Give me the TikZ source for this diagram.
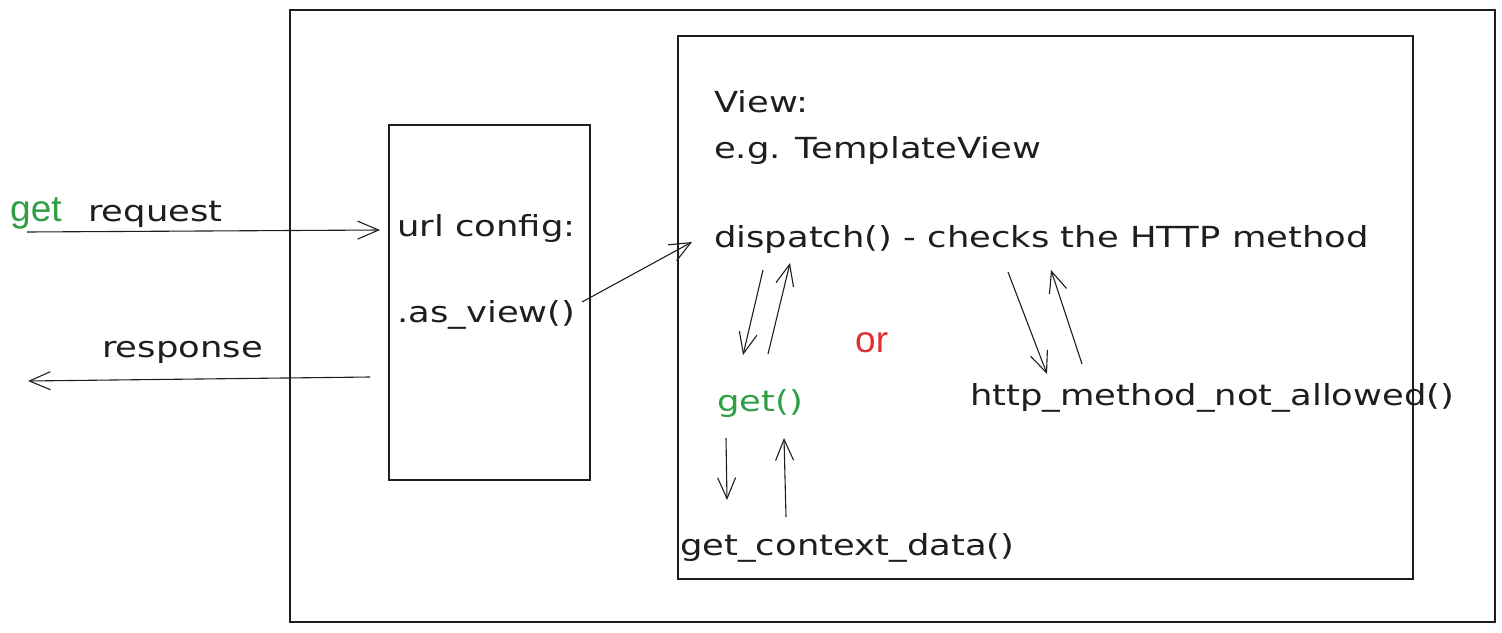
\documentclass[tikz,border=0pt]{standalone}
\usepackage{fontspec}
\usetikzlibrary{arrows.meta}
\newfontfamily\hand[FakeStretch=1.22]{DejaVu Sans}
\newfontfamily\helv{Liberation Sans}
\definecolor{ink}{HTML}{1E1E1E}
\definecolor{exgreen}{HTML}{2F9E44}
\definecolor{exred}{HTML}{E03131}
\tikzset{
  box/.style={draw=ink, line width=1.2pt},
  lbl/.style={anchor=base west, inner sep=0pt, text=ink, font=\hand\fontsize{29}{32}\selectfont},
  lblg/.style={anchor=base west, inner sep=0pt, font=\helv\fontsize{37}{40}\selectfont},
  arr/.style={draw=ink, line width=1.1pt, -{Straight Barb[length=21pt,width=18pt,line width=1.1pt]}},
}
\begin{document}
\begin{tikzpicture}[x=1pt,y=-1pt]
\useasboundingbox (0,0) rectangle (1502,632);
% boxes
\draw[box] (290,10) rectangle (1495,622);
\draw[box] (678,36) rectangle (1413,579);
\draw[box] (389,125) rectangle (590,480);
% texts
\node[lblg, text=exgreen] (getlbl) at (10,221) {get};
\node[lbl] (req) at (88,221) {request};
\node[lbl] (resp) at (102,357) {response};
\node[lbl] (url) at (397,236) {url config:};
\node[lbl] (asv) at (397,322) {.as\_view()};
\node[lbl] (view) at (714,112) {View:};
\node[lbl] (eg) at (714,158) {e.g. TemplateView};
\node[lbl] (disp) at (714,247) {dispatch() - checks the HTTP method};
\node[lblg, text=exred] (or) at (855,352) {or};
\node[lbl, text=exgreen] (get) at (717,411) {get()};
\node[lbl] (http) at (970,405) {http\_method\_not\_allowed()};
\node[lbl] (gcd) at (680,555) {get\_context\_data()};
% connector end points
\coordinate (reqS) at (27,232);
\coordinate (reqE) at (380,230);
\coordinate (respS) at (370,377);
\coordinate (respE) at (28,381);
\coordinate (asvS) at (582,302);
\coordinate (asvE) at (692,242);
\coordinate (d1S) at (763,270);
\coordinate (d1E) at (743,355);
\coordinate (g1S) at (768,354);
\coordinate (g1E) at (790,263);
\coordinate (g2S) at (726,438);
\coordinate (g2E) at (727,500);
\coordinate (c1S) at (786,517);
\coordinate (c1E) at (784,438);
\coordinate (d2S) at (1008,272);
\coordinate (d2E) at (1047,374);
\coordinate (h1S) at (1082,364);
\coordinate (h1E) at (1051,270);
% connectors
\draw[arr] (reqS) -- (reqE);
\draw[arr] (respS) -- (respE);
\draw[arr] (asvS) -- (asvE);
\draw[arr] (d1S) -- (d1E);
\draw[arr] (g1S) -- (g1E);
\draw[arr] (g2S) -- (g2E);
\draw[arr] (c1S) -- (c1E);
\draw[arr] (d2S) -- (d2E);
\draw[arr] (h1S) -- (h1E);
\end{tikzpicture}
\end{document}
